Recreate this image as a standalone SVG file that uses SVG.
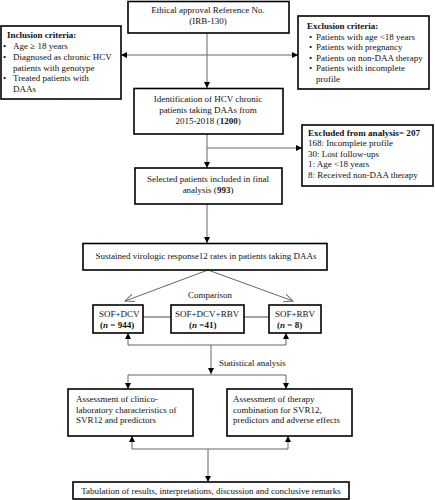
<svg xmlns="http://www.w3.org/2000/svg" width="435" height="500" viewBox="0 0 435 500">
<style>
.box{fill:#fff;stroke:#000;stroke-width:1.6}
text{font-family:"Liberation Serif","Times New Roman",serif;font-size:9px;fill:#111}
.c{text-anchor:middle}
.b{font-weight:bold}
.ln{fill:none;stroke:#666;stroke-width:1}
.gl{fill:none;stroke:#888;stroke-width:1.5}
</style>
<defs>
<marker id="ah" viewBox="0 0 6 6" refX="6" refY="3" markerWidth="6" markerHeight="6" markerUnits="userSpaceOnUse" orient="auto">
<path d="M0,0 L6,3 L0,6 Z" fill="#000"/>
</marker>
<marker id="ov" viewBox="0 0 10 10" refX="9" refY="5" markerWidth="10" markerHeight="10" markerUnits="userSpaceOnUse" orient="auto">
<path d="M0,1 L9,5 L0,9" fill="none" stroke="#666" stroke-width="1"/>
</marker>
</defs>
<rect width="435" height="500" fill="#fff"/>
<g id="connectors">
<path class="ln" d="M207,33 V88" marker-end="url(#ah)"/>
<path class="ln" d="M207,55 H121" marker-end="url(#ah)"/>
<path class="ln" d="M207,55 H298" marker-end="url(#ah)"/>
<path class="ln" d="M207,134 V168" marker-end="url(#ah)"/>
<path class="ln" d="M207,148 H302" marker-end="url(#ah)"/>
<path class="ln" d="M207,204 V243" marker-end="url(#ah)"/>
<path class="ln" d="M208,270 L125,301" marker-end="url(#ov)"/>
<path class="ln" d="M208,270 L293,301" marker-end="url(#ov)"/>
<path class="gl" d="M143,317 H171 M244,317 H269"/>
<path class="ln" d="M211,345 H128 V333" marker-end="url(#ah)"/>
<path class="ln" d="M211,345 H286 V333" marker-end="url(#ah)"/>
<path class="ln" d="M211,345 V374" marker-end="url(#ah)"/>
<path class="ln" d="M128,375 H286"/>
<path class="ln" d="M128,375 V389" marker-end="url(#ah)"/>
<path class="ln" d="M286,375 V389" marker-end="url(#ah)"/>
<path class="ln" d="M132,449 H288"/>
<path class="ln" d="M132,449 V436" marker-end="url(#ah)"/>
<path class="ln" d="M288,449 V436" marker-end="url(#ah)"/>
<path class="ln" d="M208,449 V482" marker-end="url(#ah)"/>
</g>
<g id="ethical">
<rect class="box" x="128" y="1.5" width="161" height="31.5"/>
<text class="c" x="208" y="13">Ethical approval Reference No.</text>
<text class="c" x="208" y="24">(IRB-130)</text>
</g>
<g id="inclusion">
<rect class="box" x="1" y="26" width="120" height="73"/>
<text class="b" x="7" y="38">Inclusion criteria:</text>
<text x="3" y="49">•</text><text x="13" y="49">Age ≥ 18 years</text>
<text x="3" y="60">•</text><text x="13" y="60">Diagnosed as chronic HCV</text>
<text x="13" y="70.5">patients with genotype</text>
<text x="3" y="81">•</text><text x="13" y="81">Treated patients with</text>
<text x="13" y="91.5">DAAs</text>
</g>
<g id="exclusion">
<rect class="box" x="298" y="16" width="131" height="73"/>
<text class="b" x="307" y="28.5">Exclusion criteria:</text>
<text x="309" y="39.5">•</text><text x="316" y="39.5">Patients with age &lt;18 years</text>
<text x="309" y="50">•</text><text x="316" y="50">Patients with pregnancy</text>
<text x="309" y="60.5">•</text><text x="316" y="60.5">Patients on non-DAA therapy</text>
<text x="309" y="71">•</text><text x="316" y="71">Patients with incomplete</text>
<text x="316" y="81.5">profile</text>
</g>
<g id="identification">
<rect class="box" x="134" y="88.5" width="149" height="45.5"/>
<text class="c" x="208" y="102">Identification of HCV chronic</text>
<text class="c" x="208" y="113">patients taking DAAs from</text>
<text class="c" x="208" y="124">2015-2018 (<tspan class="b">1200</tspan>)</text>
</g>
<g id="excluded">
<rect class="box" x="302" y="125" width="131" height="61"/>
<text class="b" x="308" y="135.5" textLength="112" lengthAdjust="spacingAndGlyphs">Excluded from analysis= 207</text>
<text x="308" y="146">168: Incomplete profile</text>
<text x="308" y="156.5">30: Lost follow-ups</text>
<text x="308" y="167">1: Age &lt;18 years</text>
<text x="308" y="177.5">8: Received non-DAA therapy</text>
</g>
<g id="selected">
<rect class="box" x="135" y="168" width="147" height="36"/>
<text class="c" x="208" y="182">Selected patients included in final</text>
<text class="c" x="208" y="193">analysis (<tspan class="b">993</tspan>)</text>
</g>
<g id="sustained">
<rect class="box" x="83" y="243.5" width="244" height="26.5"/>
<text class="c" x="206" y="258.5">Sustained virologic response12 rates in patients taking DAAs</text>
</g>
<text class="c" x="210" y="298">Comparison</text>
<g id="sofdcv">
<rect class="box" x="93" y="305" width="50" height="28"/>
<text x="99" y="317">SOF+DCV</text>
<text class="b" x="100" y="328">(<tspan font-style="italic">n</tspan> = 944)</text>
</g>
<g id="sofdcvrbv">
<rect class="box" x="171" y="305" width="73" height="28"/>
<text x="175" y="317">SOF+DCV+RBV</text>
<text class="b" x="189" y="328">(<tspan font-style="italic">n</tspan> =41)</text>
</g>
<g id="sofrbv">
<rect class="box" x="269" y="305" width="52" height="28"/>
<text x="275" y="317">SOF+RBV</text>
<text class="b" x="277" y="328">(<tspan font-style="italic">n</tspan> = 8)</text>
</g>
<text x="219" y="366">Statistical analysis</text>
<g id="assess1">
<rect class="box" x="68" y="389" width="125" height="47"/>
<text x="76" y="402">Assessment of clinico-</text>
<text x="76" y="412.5">laboratory characteristics of</text>
<text x="76" y="423">SVR12 and predictors</text>
</g>
<g id="assess2">
<rect class="box" x="227" y="389" width="125" height="47"/>
<text x="233" y="402">Assessment of therapy</text>
<text x="233" y="412.5">combination for SVR12,</text>
<text x="233" y="423">predictors and adverse effects</text>
</g>
<g id="tabulation">
<rect class="box" x="73" y="482" width="276" height="17"/>
<text class="c" x="211" y="493.5">Tabulation of results, interpretations, discussion and conclusive remarks</text>
</g>
</svg>
